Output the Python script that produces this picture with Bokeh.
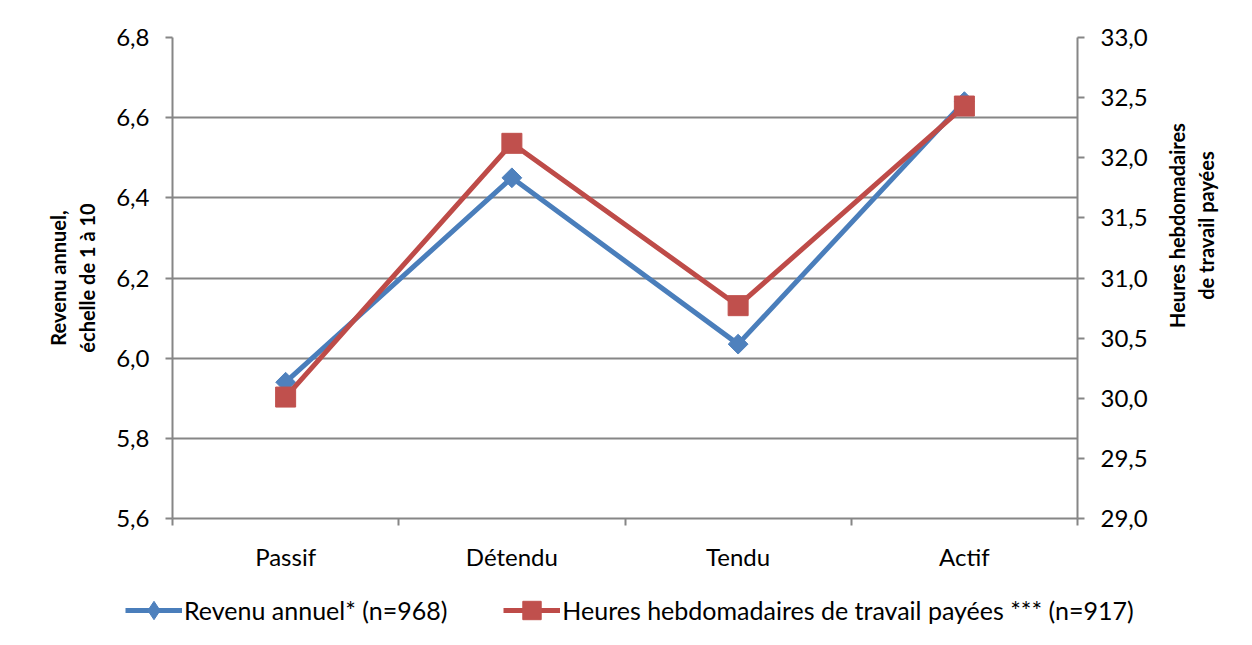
import math
from bokeh.plotting import figure
from bokeh.layouts import column, row
from bokeh.models import (Range1d, LinearAxis, FixedTicker, CustomJSTickFormatter,
                          Legend, LegendItem, Label)
from bokeh.embed import file_html
from bokeh.resources import INLINE

categories = ["Passif", "Détendu", "Tendu", "Actif"]
revenu = [5.94, 6.45, 6.035, 6.64]
heures = [30.01, 32.12, 30.77, 32.43]
left_ticks = [5.6, 5.8, 6.0, 6.2, 6.4, 6.6, 6.8]
right_ticks = [29.0, 29.5, 30.0, 30.5, 31.0, 31.5, 32.0, 32.5, 33.0]
series_labels = ["Revenu annuel* (n=968)",
                 "Heures hebdomadaires de travail payées *** (n=917)"]
left_title = "Revenu annuel,\néchelle de 1 à 10"
right_title = "Heures hebdomadaires\nde travail payées"

xs = [i + 0.5 for i in range(len(categories))]

BLUE_L = "#4A7EBB"
BLUE_M = "#4F81BD"
RED_L = "#BE4B48"
RED_M = "#C0504D"
GRID = "#868686"
FONT = "Lato"
W = 1250
PW = 1152
H = 580


def bare(fig):
    fig.grid.visible = False
    fig.outline_line_color = None
    fig.background_fill_color = "white"
    fig.border_fill_color = "white"


p = figure(width=PW, height=H, output_backend="svg", toolbar_location=None,
           x_range=Range1d(0, len(categories)), y_range=Range1d(5.6, 6.8),
           min_border_left=172, min_border_right=PW - 1077, min_border_top=37,
           min_border_bottom=62)
p.outline_line_color = None
p.background_fill_color = "white"
p.border_fill_color = "white"
p.extra_y_ranges = {"h": Range1d(29, 33)}

comma = CustomJSTickFormatter(code="return tick.toFixed(1).replace('.', ',');")

# x axis
xa = p.xaxis[0]
xa.ticker = FixedTicker(ticks=xs, minor_ticks=list(range(len(categories) + 1)))
xa.major_label_overrides = {x: c for x, c in zip(xs, categories)}
xa.major_tick_out = 0
xa.major_tick_in = 0
xa.minor_tick_out = 7
xa.minor_tick_in = 0
xa.minor_tick_line_color = GRID
xa.minor_tick_line_width = 2
xa.axis_line_color = GRID
xa.axis_line_width = 2
xa.major_label_text_font = FONT
xa.major_label_text_font_size = "24px"
xa.major_label_text_color = "black"
xa.major_label_standoff = 16
p.xgrid.visible = False

# left axis
ya = p.yaxis[0]
ya.ticker = FixedTicker(ticks=left_ticks)
ya.formatter = comma
ya.major_tick_out = 7
ya.major_tick_in = 0
ya.minor_tick_out = 0
ya.minor_tick_in = 0
ya.major_tick_line_color = GRID
ya.major_tick_line_width = 2
ya.axis_line_color = GRID
ya.axis_line_width = 2
ya.major_label_text_font = FONT
ya.major_label_text_font_size = "24px"
ya.major_label_text_color = "black"
ya.major_label_standoff = 16
ya.axis_label = left_title
ya.axis_label_text_font = FONT
ya.axis_label_text_font_style = "bold"
ya.axis_label_text_font_size = "20px"
ya.axis_label_text_color = "black"
ya.axis_label_standoff = 14
p.ygrid.ticker = FixedTicker(ticks=left_ticks)
p.ygrid.grid_line_color = GRID
p.ygrid.grid_line_width = 2

# right axis
ra = LinearAxis(y_range_name="h")
ra.ticker = FixedTicker(ticks=right_ticks)
ra.formatter = comma
ra.major_tick_out = 7
ra.major_tick_in = 0
ra.minor_tick_out = 0
ra.minor_tick_in = 0
ra.major_tick_line_color = GRID
ra.major_tick_line_width = 2
ra.axis_line_color = GRID
ra.axis_line_width = 2
ra.major_label_text_font = FONT
ra.major_label_text_font_size = "24px"
ra.major_label_text_color = "black"
ra.major_label_standoff = 16
p.add_layout(ra, "right")

# series
line_kw = [dict(line_color=BLUE_L, line_width=5, line_join="round"),
           dict(line_color=RED_L, line_width=5, line_join="round")]
mark_kw = [dict(marker="square", angle=0.785398, fill_color=BLUE_M, line_color=BLUE_M),
           dict(marker="square", fill_color=RED_M, line_color=RED_M)]
legend_mark_kw = [dict(marker="diamond", fill_color=BLUE_M, line_color=BLUE_M),
                  dict(marker="square", fill_color=RED_M, line_color=RED_M)]

p.line(xs, revenu, **line_kw[0])
p.scatter(xs, revenu, size=14, **mark_kw[0])
p.line(xs, heures, y_range_name="h", **line_kw[1])
p.scatter(xs, heures, y_range_name="h", size=20, **mark_kw[1])

# right axis title strip (reads bottom-to-top like the reference)
rf = figure(width=W - PW, height=H, output_backend="svg", toolbar_location=None,
            x_range=Range1d(0, 1), y_range=Range1d(0, 1),
            x_axis_location=None, y_axis_location=None,
            min_border_left=0, min_border_right=0, min_border_top=0, min_border_bottom=0)
bare(rf)
rf.add_layout(Label(x=39, y=H - 287, x_units="screen", y_units="screen",
                    text=right_title, angle=math.pi / 2, text_align="center",
                    text_baseline="middle", text_font=FONT, text_font_style="bold",
                    text_font_size="20px", text_color="black"))

# legend strip below the plot
lf = figure(width=W, height=63, output_backend="svg", toolbar_location=None,
            x_range=Range1d(0, 1), y_range=Range1d(0, 1),
            x_axis_location=None, y_axis_location=None,
            min_border_left=0, min_border_right=0, min_border_top=0, min_border_bottom=0)
bare(lf)

series_vals = [revenu, heures]
items = []
for i, lab in enumerate(series_labels):
    # same series values; they fall outside this strip's y range, so only the legend shows
    r1 = lf.line(xs, series_vals[i], **line_kw[i])
    r2 = lf.scatter(xs, series_vals[i], **legend_mark_kw[i])
    items.append(LegendItem(label=lab, renderers=[r1, r2]))

legend = Legend(items=items, orientation="horizontal", location=(125, 10))
legend.glyph_width = 57
legend.glyph_height = 46
legend.label_standoff = 2
legend.spacing = 56
legend.padding = 2
legend.margin = 0
legend.border_line_color = None
legend.background_fill_alpha = 0
legend.label_text_font = FONT
legend.label_text_font_size = "25px"
legend.label_text_color = "black"
lf.add_layout(legend, "center")

layout = column(row(p, rf, spacing=0), lf, spacing=0)
open("out.html", "w").write(file_html(layout, INLINE))
